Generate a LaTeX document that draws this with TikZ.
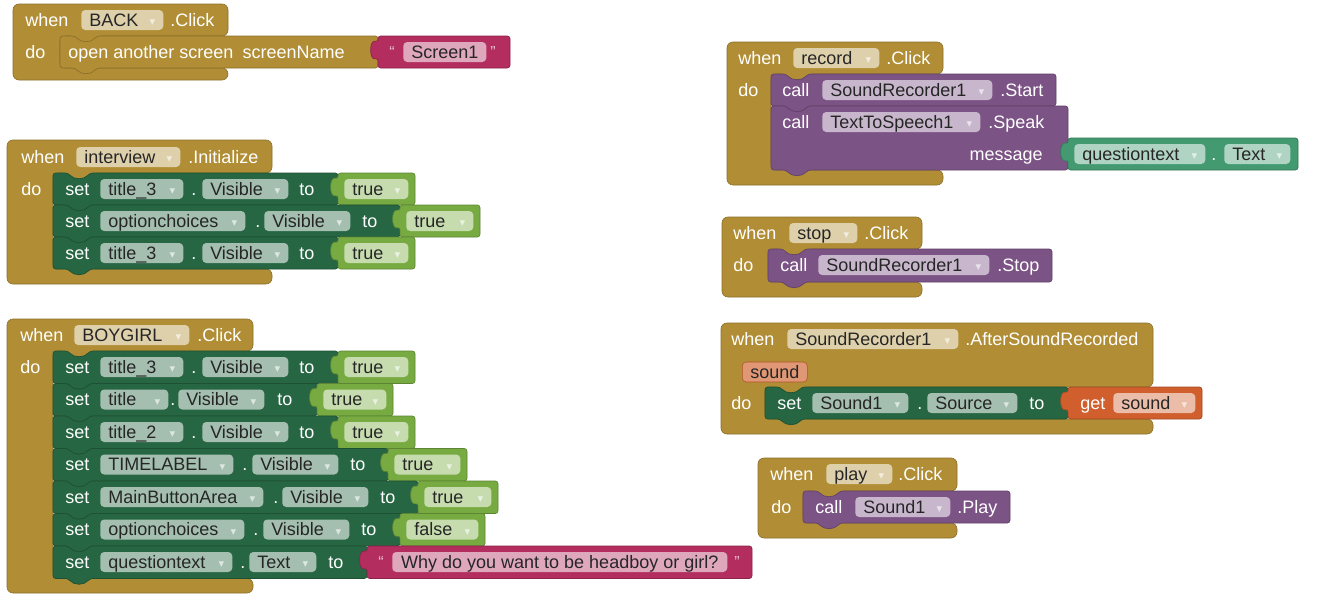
\documentclass[tikz,border=0pt]{standalone}
\usepackage{fontspec}
\setmainfont{Liberation Sans}
\newfontfamily\symfont{DejaVu Sans}
\definecolor{aiCtrl}{RGB}{177,142,53}
\definecolor{aiSet}{RGB}{38,102,67}
\definecolor{aiCall}{RGB}{124,83,133}
\definecolor{aiLogic}{RGB}{119,171,65}
\definecolor{aiText}{RGB}{179,45,94}
\definecolor{aiVar}{RGB}{208,95,45}
\definecolor{aiGet}{RGB}{67,153,112}

\newcommand{\dd}[1]{\raisebox{1.3pt}{\symfont\fontsize{5.5}{6}\selectfont\color{#1!16!white}▼}}
% x0, y0, x1, bottom of head, arm, top of foot, bottom, colour
\newcommand{\hatblk}[8]{\filldraw[blk=#8, rounded corners=4.5pt] (#1,#2) -- (#3,#2) -- (#3,#4) -- ({#5+37},#4) .. controls ({#5+31},{#4+7}) and ({#5+21},{#4+7}) .. ({#5+15},#4) -- (#5,#4) -- (#5,#6) -- (#3,#6) -- (#3,#7) -- (#1,#7) -- cycle;}
\newcommand{\stmtblk}[5]{\filldraw[blk=#5] (#1,#2) -- ({#1+15},#2) .. controls ({#1+21},{#2+7}) and ({#1+31},{#2+7}) .. ({#1+37},#2) -- (#3,#2) -- (#3,#4) -- ({#1+37},#4) .. controls ({#1+31},{#4+7}) and ({#1+21},{#4+7}) .. ({#1+15},#4) -- (#1,#4) -- cycle;}
\newcommand{\valblk}[5]{\filldraw[blk=#5] (#1,{#2+6}) -- (#1,#2) -- (#3,#2) -- (#3,#4) -- (#1,#4) -- (#1,{#2+22}) .. controls ({#1-9},{#2+25}) and ({#1-9},{#2+3}) .. (#1,{#2+6}) -- cycle;}
\newcommand{\fld}[6]{\pgfmathsetlengthmacro{\fldw}{(#4-16)*0.75}%
  \node[fld=#5, text width=\fldw] (#1) at (#2,#3) {\noindent #6\hfill\dd{#5}};}
\newcommand{\pfld}[6]{\pgfmathsetlengthmacro{\fldw}{#4*0.75}%
  \node[fld=#5, minimum width=\fldw] (#1) at (#2,#3) {#6};}

\begin{document}
\begin{tikzpicture}[x=0.75pt, y=-0.75pt, font=\fontsize{13.5}{16}\selectfont,
  blk/.style={fill=#1, draw=#1!78!black, line width=0.5pt, rounded corners=2pt},
  lbl/.style={text=white, anchor=west, inner sep=0pt, text height=9.7pt, text depth=0pt},
  fld/.style={fill=white!58!#1, text=black!85, anchor=west, rounded corners=3pt, inner xsep=6pt, inner ysep=0pt, minimum height=15pt, text height=9.7pt, text depth=0pt},
  quote/.style={lbl, font=\fontsize{12}{12}\selectfont, text=white!70!aiText}]
  \fill[white] (0,0) rectangle (1339,603);
  \useasboundingbox (0,0) rectangle (1339,603);

  % when BACK.Click
  \hatblk{13}{4}{228}{36}{60}{68}{80}{aiCtrl}
  \stmtblk{60}{36}{378}{68}{aiCtrl}
  \valblk{378}{36}{510}{68}{aiText}
  \node[lbl] (b1when) at (25,20) {when};
  \fld{b1comp}{81}{20}{82}{aiCtrl}{BACK}
  \node[lbl] (b1evt) at (170,20) {.Click};
  \node[lbl] (b1do) at (25,52) {do};
  \node[lbl] (b1open) at (68,52) {open another screen\hspace{7pt}screenName};
  \node[quote] (b1q1) at (389,51) {“};
  \pfld{b1str}{403}{52}{80}{aiText}{Screen1}
  \node[quote] (b1q2) at (490,51) {”};

  % when interview.Initialize
  \hatblk{7}{140}{272}{173}{53}{269}{284}{aiCtrl}
  \node[lbl] (b2when) at (21,157) {when};
  \fld{b2comp}{76}{157}{104}{aiCtrl}{interview}
  \node[lbl] (b2evt) at (188,157) {.Initialize};
  \node[lbl] (b2do) at (21,189) {do};
  \foreach \r/\yt/\comp/\cw/\dx/\px/\tx/\vx/\ve/\vt in {
    1/173/title\_3/83/191/202/299/338/415/true,
    2/205/optionchoices/145/255/264/362/400/480/true,
    3/237/title\_3/83/191/202/299/338/415/true%
  } {
    \stmtblk{53}{\yt}{\vx}{\yt+32}{aiSet}
    \valblk{\vx}{\yt}{\ve}{\yt+32}{aiLogic}
    \node[lbl] (b2set\r) at (65,\yt+16) {set};
    \fld{b2comp\r}{100}{\yt+16}{\cw}{aiSet}{\comp}
    \node[lbl] (b2dot\r) at (\dx,\yt+16) {.};
    \fld{b2prop\r}{\px}{\yt+16}{86}{aiSet}{Visible}
    \node[lbl] (b2to\r) at (\tx,\yt+16) {to};
    \fld{b2val\r}{\vx+6}{\yt+16}{\ve-\vx-13}{aiLogic}{\vt}
  }

  % when BOYGIRL.Click
  \hatblk{7}{319}{253}{351}{53}{578.5}{593}{aiCtrl}
  \node[lbl] (b3when) at (20,335) {when};
  \fld{b3comp}{74}{335}{115}{aiCtrl}{BOYGIRL}
  \node[lbl] (b3evt) at (197,335) {.Click};
  \node[lbl] (b3do) at (20,367) {do};
  \foreach \r/\yt/\comp/\cw/\dx/\px/\tx/\vx/\ve/\vt in {
    1/351/title\_3/83/191/202/299/338/415/true,
    2/383.5/title/68/170/178/277/317/393/true,
    3/416/title\_2/83/191/202/299/338/415/true,
    4/448.5/TIMELABEL/133/242/252/350/388/467/true,
    5/481/MainButtonArea/163/273/282/380/418/498/true,
    6/513.5/optionchoices/144/253/263/361/400/485/false%
  } {
    \stmtblk{53}{\yt}{\vx}{\yt+32.5}{aiSet}
    \valblk{\vx}{\yt}{\ve}{\yt+32.5}{aiLogic}
    \node[lbl] (b3set\r) at (65,\yt+16) {set};
    \fld{b3comp\r}{100}{\yt+16}{\cw}{aiSet}{\comp}
    \node[lbl] (b3dot\r) at (\dx,\yt+16) {.};
    \fld{b3prop\r}{\px}{\yt+16}{86}{aiSet}{Visible}
    \node[lbl] (b3to\r) at (\tx,\yt+16) {to};
    \fld{b3val\r}{\vx+6}{\yt+16}{\ve-\vx-13}{aiLogic}{\vt}
  }
  \stmtblk{53}{546}{367}{578.5}{aiSet}
  \valblk{367}{546}{752}{578.5}{aiText}
  \node[lbl] (b3set7) at (65,562) {set};
  \fld{b3comp7}{100}{562}{132}{aiSet}{questiontext}
  \node[lbl] (b3dot7) at (240,562) {.};
  \fld{b3prop7}{249}{562}{67}{aiSet}{Text}
  \node[lbl] (b3to7) at (328,562) {to};
  \node[quote] (b3q1) at (378,561) {“};
  \pfld{b3str}{392}{562}{335}{aiText}{Why do you want to be headboy or girl?}
  \node[quote] (b3q2) at (734,561) {”};

  % when record.Click
  \hatblk{727}{42}{943}{74}{771}{170}{185}{aiCtrl}
  \stmtblk{771}{74}{1056}{106}{aiCall}
  \stmtblk{771}{106}{1068}{170}{aiCall}
  \valblk{1068}{138}{1298}{170}{aiGet}
  \node[lbl] (b4when) at (738,58) {when};
  \fld{b4comp}{793}{58}{86}{aiCtrl}{record}
  \node[lbl] (b4evt) at (886,58) {.Click};
  \node[lbl] (b4do) at (738,90) {do};
  \node[lbl] (b4call1) at (782,90) {call};
  \fld{b4rec}{822}{90}{170}{aiCall}{SoundRecorder1}
  \node[lbl] (b4start) at (1000,90) {.Start};
  \node[lbl] (b4call2) at (782,122) {call};
  \fld{b4tts}{822}{122}{158}{aiCall}{TextToSpeech1}
  \node[lbl] (b4speak) at (988,122) {.Speak};
  \node[lbl, anchor=east] (b4msg) at (1043,154) {message};
  \fld{b4qt}{1074}{154}{131}{aiGet}{questiontext}
  \node[lbl] (b4dot) at (1211,154) {.};
  \fld{b4prop}{1224}{154}{66}{aiGet}{Text}

  % when stop.Click
  \hatblk{722}{217}{922}{249}{768}{282}{297}{aiCtrl}
  \stmtblk{768}{249}{1052}{282}{aiCall}
  \node[lbl] (b5when) at (733,233) {when};
  \fld{b5comp}{789}{233}{68}{aiCtrl}{stop}
  \node[lbl] (b5evt) at (864,233) {.Click};
  \node[lbl] (b5do) at (733,265) {do};
  \node[lbl] (b5call) at (780,265) {call};
  \fld{b5rec}{818}{265}{171}{aiCall}{SoundRecorder1}
  \node[lbl] (b5stop) at (997,265) {.Stop};

  % when SoundRecorder1.AfterSoundRecorded
  \hatblk{721}{323}{1153}{387}{765}{419}{434}{aiCtrl}
  \stmtblk{765}{387}{1068}{419}{aiSet}
  \valblk{1068}{387}{1202}{419}{aiVar}
  \node[lbl] (b6when) at (731,339) {when};
  \fld{b6comp}{787}{339}{171}{aiCtrl}{SoundRecorder1}
  \node[lbl] (b6evt) at (965,339) {.AfterSoundRecorded};
  \node[fld=aiVar, fill=white!35!aiVar, draw=aiVar!85!black, minimum width=48pt] (b6param) at (742,372) {sound};
  \node[lbl] (b6do) at (731,403) {do};
  \node[lbl] (b6set) at (777,403) {set};
  \fld{b6snd}{812}{403}{96}{aiSet}{Sound1}
  \node[lbl] (b6dot) at (917,403) {.};
  \fld{b6prop}{927}{403}{90}{aiSet}{Source}
  \node[lbl] (b6to) at (1029,403) {to};
  \node[lbl] (b6get) at (1080,403) {get};
  \fld{b6var}{1113}{403}{82}{aiVar}{sound}

  % when play.Click
  \hatblk{758}{458}{957}{491}{803}{523}{538}{aiCtrl}
  \stmtblk{803}{491}{1010}{523}{aiCall}
  \node[lbl] (b7when) at (770,474) {when};
  \fld{b7comp}{826}{474}{66}{aiCtrl}{play}
  \node[lbl] (b7evt) at (898,474) {.Click};
  \node[lbl] (b7do) at (771,507) {do};
  \node[lbl] (b7call) at (815,507) {call};
  \fld{b7snd}{855}{507}{95}{aiCall}{Sound1}
  \node[lbl] (b7play) at (957,507) {.Play};
\end{tikzpicture}
\end{document}
